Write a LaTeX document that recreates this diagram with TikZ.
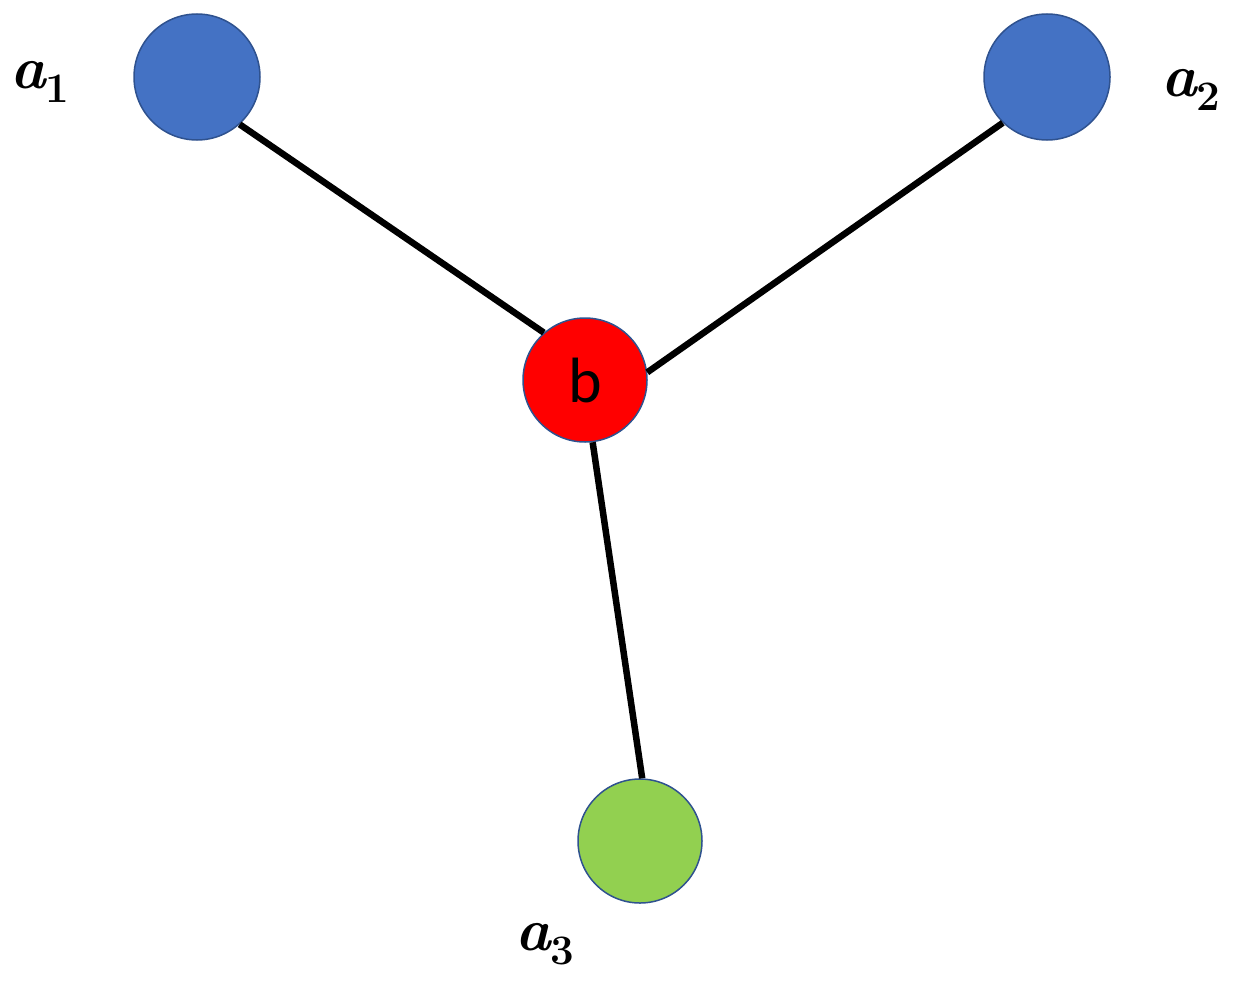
\documentclass[tikz,border=0pt]{standalone}
\usepackage{fontspec}
\newfontfamily\calfont{Carlito}
\definecolor{nodeblue}{HTML}{4472C4}
\definecolor{nodegreen}{HTML}{92D050}
\definecolor{nodered}{HTML}{FF0000}
\definecolor{rimblue}{HTML}{2F528F}
\newcommand{\alab}[1]{{\fontsize{60}{62}\selectfont\bfseries\itshape a}\raisebox{-14pt}{\fontsize{42}{44}\selectfont\bfseries #1}}
\tikzset{
  vert/.style={circle, draw=rimblue, line width=1.5pt, minimum size=126pt, inner sep=0pt},
  edge/.style={black, line width=6.5pt},
  lab/.style={inner sep=0pt, anchor=base west}
}
\begin{document}
\begin{tikzpicture}[x=1pt,y=-1pt]
\useasboundingbox (0,0) rectangle (1233,990);
\node[vert, fill=nodeblue] (a1) at (197,77) {};
\node[vert, fill=nodeblue] (a2) at (1047,77) {};
\node[vert, fill=nodered, minimum size=124pt, font=\calfont\fontsize{64}{66}\selectfont] (b) at (585,380) {b};
\node[vert, fill=nodegreen, minimum size=124pt] (a3) at (640,841) {};
\draw[edge] (a1.-48) -- (b.131);
\draw[edge] (a2.226) -- (b.7);
\draw[edge] (b.-83) -- (a3.88);
\node[lab] (la1) at (10,88) {\alab{1}};
\node[lab] (la2) at (1161,96) {\alab{2}};
\node[lab] (la3) at (515,950) {\alab{3}};
\end{tikzpicture}
\end{document}
